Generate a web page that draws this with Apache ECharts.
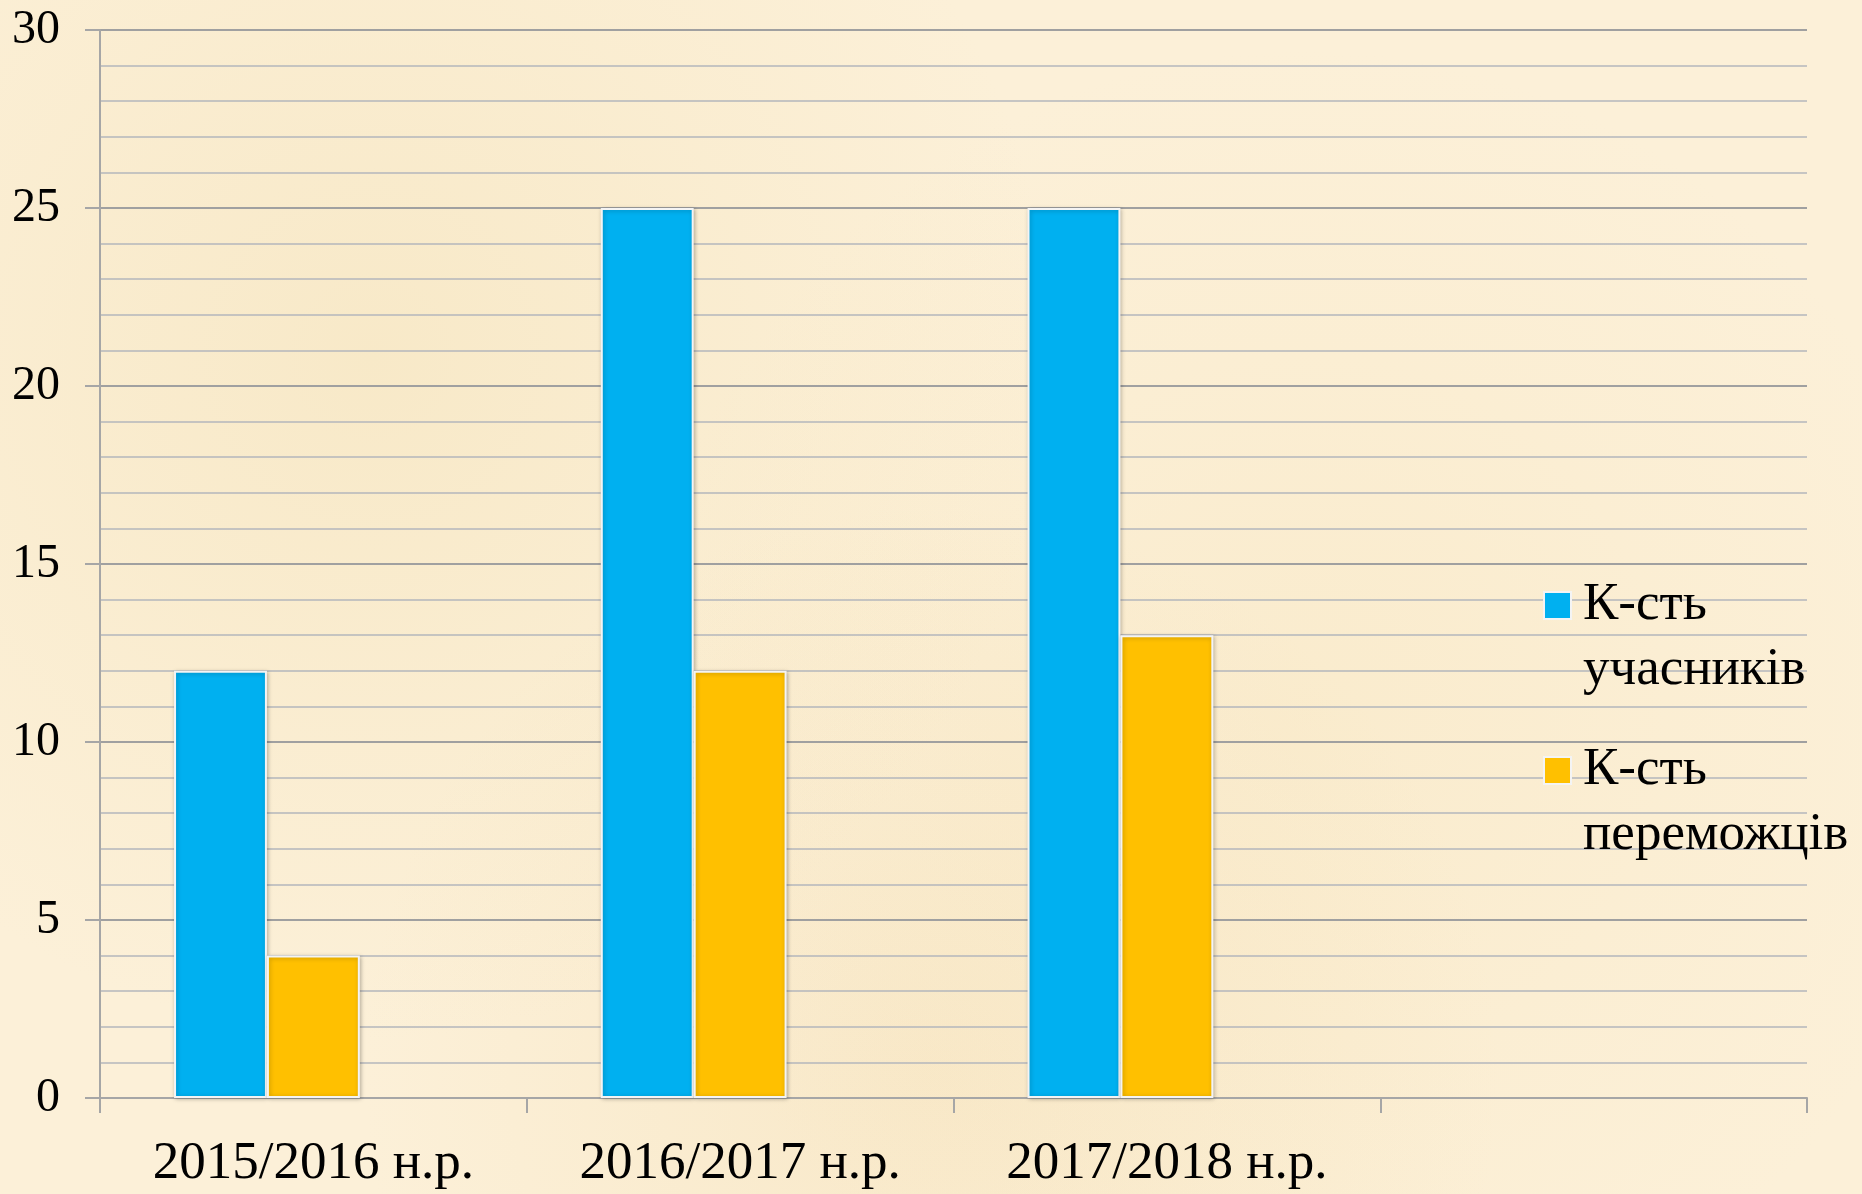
<!DOCTYPE html>
<html>
<head>
<meta charset="utf-8">
<script src="https://cdn.jsdelivr.net/npm/echarts@6/dist/echarts.min.js"></script>
<style>
  html, body { margin: 0; padding: 0; }
  body {
    width: 1862px;
    height: 1194px;
    background-color: #fcf0d8;
    background-image:
      radial-gradient(circle at 20% 30%, rgba(240, 220, 170, 0.35), transparent 40%),
      radial-gradient(circle at 70% 60%, rgba(245, 225, 180, 0.3), transparent 45%),
      radial-gradient(circle at 50% 90%, rgba(240, 215, 165, 0.3), transparent 40%);
  }
  #chart-container { width: 1862px; height: 1194px; }
</style>
</head>
<body>
<div id="chart-container"></div>
<script>
const categories = ["2015/2016 н.р.", "2016/2017 н.р.", "2017/2018 н.р.", ""];
const participants = [12, 25, 25, null];
const winners = [4, 12, 13, null];
const thirdSeries = [null, null, null, null];
const seriesNames = ["К-сть учасників", "К-сть переможців"];
// leading blank line keeps the square level with the first text line
const legendLabels = ["\nК-сть\nучасників", "\nК-сть\nпереможців"];

const chartContainer = document.getElementById("chart-container");
const myChart = echarts.init(chartContainer);

const fontFamily = "'Liberation Serif', 'DejaVu Serif', serif";

const legendText = {
  fontFamily: fontFamily,
  fontSize: 53,
  color: "#000",
  lineHeight: 65,
  padding: [0, 0, 0, 7],
};

const barStyle = (color) => ({
  color: color,
  borderColor: "#f4f4f4",
  borderWidth: 2,
  shadowColor: "rgba(0,0,0,0.25)",
  shadowBlur: 4,
  shadowOffsetX: 1,
  shadowOffsetY: 1,
});

const legendAt = (i, top) => ({
  orient: "vertical",
  left: 1543,
  top: top,
  padding: 0,
  itemWidth: 27,
  itemHeight: 27,
  icon: "rect",
  data: [seriesNames[i]],
  formatter: () => legendLabels[i],
  textStyle: legendText,
});

const option = {
  animation: false,
  grid: {
    left: 100,
    right: 55,
    top: 30,
    bottom: 96,
  },
  legend: [legendAt(0, 508), legendAt(1, 673)],
  xAxis: {
    type: "category",
    data: categories,
    axisLine: { lineStyle: { color: "#a6a6a6", width: 2 } },
    axisTick: { show: true, length: 15, lineStyle: { color: "#a6a6a6", width: 2 } },
    axisLabel: {
      fontFamily: fontFamily,
      fontSize: 53,
      color: "#000",
      margin: 40,
    },
    splitLine: { show: false },
  },
  yAxis: {
    type: "value",
    min: 0,
    max: 30,
    interval: 5,
    axisLine: { show: true, lineStyle: { color: "#a6a6a6", width: 2 } },
    axisTick: { show: true, length: 15, lineStyle: { color: "#a6a6a6", width: 2 } },
    axisLabel: {
      fontFamily: fontFamily,
      fontSize: 48,
      color: "#000",
      margin: 40,
    },
    splitLine: { show: true, lineStyle: { color: "#a0a0a0", width: 2 } },
    minorTick: { show: false, splitNumber: 5 },
    minorSplitLine: { show: true, lineStyle: { color: "#b4b6bc", width: 1.5 } },
  },
  series: [
    {
      name: seriesNames[0],
      type: "bar",
      data: participants,
      barGap: "0%",
      barCategoryGap: "34.7%",
      itemStyle: barStyle("#00b0f0"),
    },
    {
      name: seriesNames[1],
      type: "bar",
      data: winners,
      barGap: "0%",
      barCategoryGap: "34.7%",
      itemStyle: barStyle("#ffc000"),
    },
    {
      name: "",
      type: "bar",
      data: thirdSeries,
      barGap: "0%",
      barCategoryGap: "34.7%",
    },
  ],
};

myChart.setOption(option);
</script>
</body>
</html>
